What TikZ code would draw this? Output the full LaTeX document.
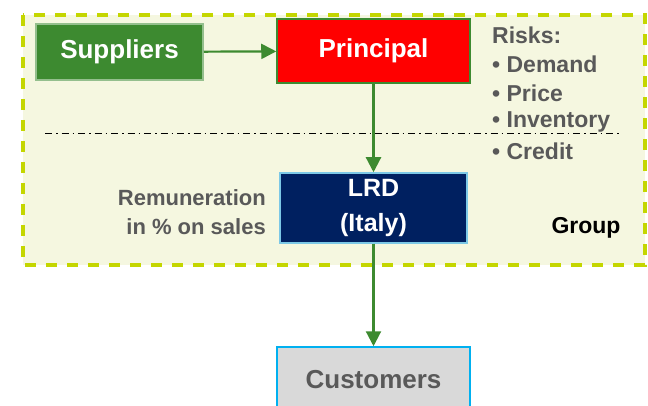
\documentclass[tikz,border=0pt]{standalone}
\usepackage{fontspec}
\setmainfont{Liberation Sans}
\usetikzlibrary{arrows.meta}

\definecolor{leafgreen}{HTML}{3D8A30}
\definecolor{groupfill}{HTML}{F5F7E0}
\definecolor{groupline}{HTML}{C4D600}
\definecolor{lrdblue}{HTML}{002060}
\definecolor{lrdline}{HTML}{7CC8E6}
\definecolor{custline}{HTML}{00B0F0}
\definecolor{custfill}{HTML}{D9D9D9}
\definecolor{textgray}{HTML}{595959}

\tikzset{
  entity/.style={minimum width=#1,font=\bfseries\fontsize{26}{30}\selectfont,inner sep=0pt,line width=1.5pt},
  flow/.style={draw=leafgreen,line width=2.2pt,-{Triangle[length=15pt,width=15pt]}},
  note/.style={font=\bfseries\fontsize{23}{29}\selectfont,text=textgray,inner sep=0pt}
}

\begin{document}
\begin{tikzpicture}[x=1pt,y=-1pt]
			\useasboundingbox (0,0) rectangle (648,406);
			\clip (0,0) rectangle (648,406);
			% group area
			\draw[fill=groupfill,draw=groupline,line width=4pt,dash pattern=on 11pt off 10pt] (23,15) rectangle (645,265);
			\draw[line width=1pt,dash pattern=on 7pt off 4pt on 1.5pt off 4pt] (45,134) -- (622,134);
			% entities
			\node[entity=167pt,minimum height=56pt,fill=leafgreen,draw=leafgreen!55!white,text=white] (sup) at (119.5,52) {Suppliers};
			\node[entity=193pt,minimum height=64pt,fill=red,draw=leafgreen,text=white] (prin) at (373.5,51) {Principal};
			\node[entity=187pt,minimum height=70pt,fill=lrdblue,draw=lrdline,text=white,align=center,font=\bfseries\fontsize{25}{35}\selectfont] (lrd) at (373.5,208) {LRD\\(Italy)};
			\node[entity=193pt,minimum height=66pt,fill=custfill,draw=custline,text=textgray] (cust) at (373.5,380) {Customers};
			% flows
			\draw[flow] (sup) -- (prin);
			\draw[flow] (prin) -- (lrd);
			\draw[flow] (lrd) -- (cust);
			% notes
			\node[note,anchor=west] (risks) at (492,35) {Risks:};
			\foreach \item/\y [count=\i] in {Demand/64,Price/93,Inventory/122,Credit/151}
				\node[note,anchor=west] (risk\i) at (492,\y) {\textbullet\ \item};
			\node[note,anchor=east,align=right,font=\bfseries\fontsize{22}{29}\selectfont] (remun) at (266,212) {Remuneration\\in \% on sales};
			\node[note,text=black,font=\bfseries\fontsize{23}{28}\selectfont] (grp) at (586,228) {Group};
		\end{tikzpicture}
\end{document}
